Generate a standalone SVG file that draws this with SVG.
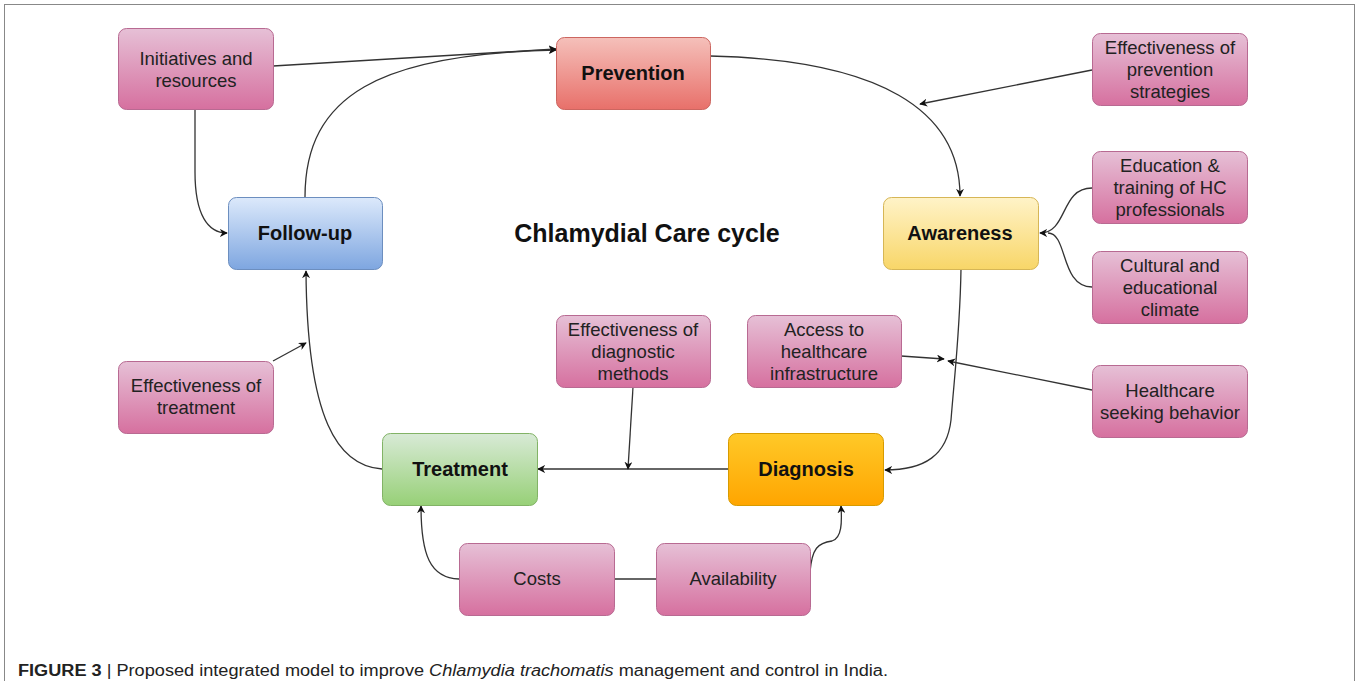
<svg xmlns="http://www.w3.org/2000/svg" width="1358" height="681" viewBox="0 0 1358 681">
<defs>
<linearGradient id="gPink" x1="0" y1="0" x2="0" y2="1"><stop offset="0" stop-color="#e6c0d6"/><stop offset="1" stop-color="#d6709f"/></linearGradient>
<linearGradient id="gRed" x1="0" y1="0" x2="0" y2="1"><stop offset="0" stop-color="#f5c0ba"/><stop offset="1" stop-color="#e8706a"/></linearGradient>
<linearGradient id="gYellow" x1="0" y1="0" x2="0" y2="1"><stop offset="0" stop-color="#fff3c8"/><stop offset="1" stop-color="#f8d668"/></linearGradient>
<linearGradient id="gBlue" x1="0" y1="0" x2="0" y2="1"><stop offset="0" stop-color="#dce9fb"/><stop offset="1" stop-color="#7ea6e0"/></linearGradient>
<linearGradient id="gGreen" x1="0" y1="0" x2="0" y2="1"><stop offset="0" stop-color="#d8ead6"/><stop offset="1" stop-color="#97d077"/></linearGradient>
<linearGradient id="gOrange" x1="0" y1="0" x2="0" y2="1"><stop offset="0" stop-color="#ffc928"/><stop offset="1" stop-color="#ffa500"/></linearGradient>
<marker id="arr" viewBox="0 0 10 10" refX="9" refY="5" markerWidth="8" markerHeight="8" markerUnits="userSpaceOnUse" orient="auto"><path d="M0,0 L10,5 L0,10 L3,5 Z" fill="#111"/></marker>
</defs>
<style>
.pink{fill:url(#gPink);stroke:#b86a92;stroke-width:1}
.lbl{font-family:"Liberation Sans",Arial,sans-serif;font-size:18.5px;fill:#222;text-anchor:middle}
.main{font-family:"Liberation Sans",Arial,sans-serif;font-size:20px;font-weight:bold;fill:#111;text-anchor:middle}
.c{fill:none;stroke:#333;stroke-width:1.3;marker-end:url(#arr)}
.cn{fill:none;stroke:#333;stroke-width:1.3}
</style>
<rect x="0" y="0" width="1358" height="681" fill="#fff"/>
<rect x="4.5" y="4.5" width="1350" height="700" fill="none" stroke="#888" stroke-width="1"/>

<g id="connectors">
<path class="c" d="M273,66 L556,49"/>
<path class="c" d="M305,197 C305,95 380,54 556,50"/>
<path class="c" d="M710,56 C880,60 960,110 960,196"/>
<path class="c" d="M1092,70 L920,104"/>
<path class="c" d="M1092,188 C1060,188 1068,233 1040,233"/>
<path class="cn" d="M1092,287 C1060,287 1068,233 1048,233"/>
<path class="c" d="M961,269 C960,330 955,370 951,420 C947,455 925,470 885,470"/>
<path class="c" d="M901,356 L944,359"/>
<path class="c" d="M1092,390 L948,361"/>
<path class="c" d="M728,469 L538,469"/>
<path class="c" d="M633,387 L628,469"/>
<path class="c" d="M382,469 C338,466 307,420 306,271"/>
<path class="c" d="M273,361 L306,343"/>
<path class="c" d="M195,109 L195,172 C195,215 208,233 227,233"/>
<path class="c" d="M459,579 C430,578 421,555 421,506"/>
<path class="cn" d="M614,579 L656,579"/>
<path class="c" d="M810,572 C812,548 818,543 832,541 C842,538 842,522 841,506"/>
</g>

<g id="initiatives"><rect class="pink" x="118.5" y="28.5" width="155" height="81" rx="8"/><text class="lbl" x="196" y="65">Initiatives and</text><text class="lbl" x="196" y="87">resources</text></g>
<g id="prevention"><rect x="556.5" y="37.5" width="154" height="72" rx="8" fill="url(#gRed)" stroke="#cc6660"/><text class="main" x="633" y="80">Prevention</text></g>
<g id="eff-prevention"><rect class="pink" x="1092.5" y="33.5" width="155" height="72" rx="8"/><text class="lbl" x="1170" y="54">Effectiveness of</text><text class="lbl" x="1170" y="76">prevention</text><text class="lbl" x="1170" y="98">strategies</text></g>
<g id="education"><rect class="pink" x="1092.5" y="151.5" width="155" height="72" rx="8"/><text class="lbl" x="1170" y="172">Education &amp;</text><text class="lbl" x="1170" y="194">training of HC</text><text class="lbl" x="1170" y="216">professionals</text></g>
<g id="cultural"><rect class="pink" x="1092.5" y="251.5" width="155" height="72" rx="8"/><text class="lbl" x="1170" y="272">Cultural and</text><text class="lbl" x="1170" y="294">educational</text><text class="lbl" x="1170" y="316">climate</text></g>
<g id="awareness"><rect x="883.5" y="197.5" width="155" height="72" rx="8" fill="url(#gYellow)" stroke="#d6b656"/><text class="main" x="960" y="240">Awareness</text></g>
<g id="followup"><rect x="228.5" y="197.5" width="154" height="72" rx="8" fill="url(#gBlue)" stroke="#6c8ebf"/><text class="main" x="305" y="240">Follow-up</text></g>
<g id="title"><text x="647" y="242" font-family="Liberation Sans,Arial,sans-serif" font-size="25" font-weight="bold" fill="#111" text-anchor="middle">Chlamydial Care cycle</text></g>
<g id="eff-diagnostic"><rect class="pink" x="556.5" y="315.5" width="154" height="72" rx="8"/><text class="lbl" x="633" y="336">Effectiveness of</text><text class="lbl" x="633" y="358">diagnostic</text><text class="lbl" x="633" y="380">methods</text></g>
<g id="access"><rect class="pink" x="747.5" y="315.5" width="154" height="72" rx="8"/><text class="lbl" x="824" y="336">Access to</text><text class="lbl" x="824" y="358">healthcare</text><text class="lbl" x="824" y="380">infrastructure</text></g>
<g id="seeking"><rect class="pink" x="1092.5" y="365.5" width="155" height="72" rx="8"/><text class="lbl" x="1170" y="397">Healthcare</text><text class="lbl" x="1170" y="419">seeking behavior</text></g>
<g id="eff-treatment"><rect class="pink" x="118.5" y="361.5" width="155" height="72" rx="8"/><text class="lbl" x="196" y="392">Effectiveness of</text><text class="lbl" x="196" y="414">treatment</text></g>
<g id="treatment"><rect x="382.5" y="433.5" width="155" height="72" rx="8" fill="url(#gGreen)" stroke="#82b366"/><text class="main" x="460" y="476">Treatment</text></g>
<g id="diagnosis"><rect x="728.5" y="433.5" width="155" height="72" rx="8" fill="url(#gOrange)" stroke="#d79b00"/><text class="main" x="806" y="476">Diagnosis</text></g>
<g id="costs"><rect class="pink" x="459.5" y="543.5" width="155" height="72" rx="8"/><text class="lbl" x="537" y="585">Costs</text></g>
<g id="availability"><rect class="pink" x="656.5" y="543.5" width="154" height="72" rx="8"/><text class="lbl" x="733" y="585">Availability</text></g>

<text x="18" y="676" font-family="Liberation Sans Narrow,Liberation Sans,Arial,sans-serif" font-size="16" fill="#222" textLength="870" lengthAdjust="spacingAndGlyphs"><tspan font-weight="bold">FIGURE 3</tspan> | Proposed integrated model to improve <tspan font-style="italic">Chlamydia trachomatis</tspan> management and control in India.</text>
</svg>
